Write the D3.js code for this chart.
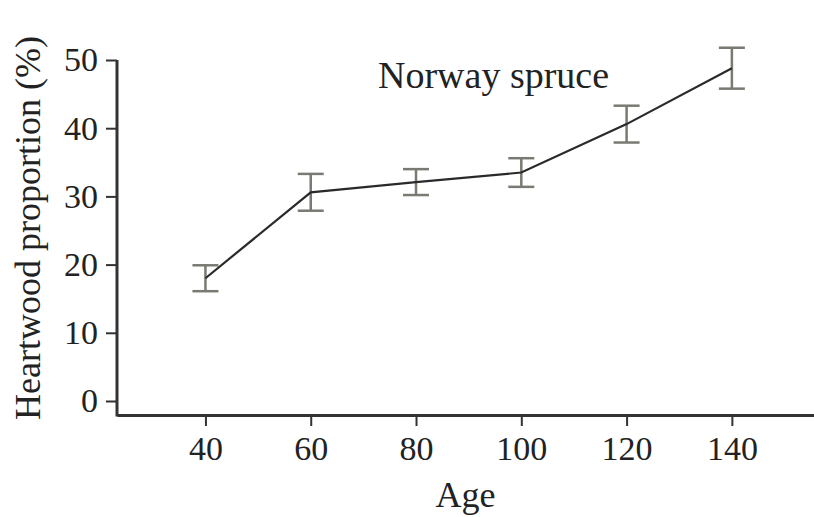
<!DOCTYPE html>
<html>
<head>
<meta charset="utf-8">
<script src="https://cdn.jsdelivr.net/npm/d3@7"></script>
<style>
  html, body { margin: 0; padding: 0; background: #fff; }
  svg { display: block; }
  .axis text { font-family: 'Liberation Serif', serif; font-size: 34px; fill: #222; }
</style>
</head>
<body>
<div id="chart"></div>
<script>
'use strict';

// values
var ages = [40, 60, 80, 100, 120, 140];
var heartwood = [18.0, 30.6, 32.1, 33.5, 40.6, 48.8];
var errors = [1.9, 2.7, 1.9, 2.1, 2.7, 3.0];
var xTicks = [40, 60, 80, 100, 120, 140];
var yTicks = [0, 10, 20, 30, 40, 50];
var title = 'Norway spruce';

var chartW = 814, chartH = 517;
var plotLeft = 117, plotRight = 814, plotTop = 60, axisY = 415;

var svg = d3.select('#chart')
    .append('svg')
    .attr('width', chartW)
    .attr('height', chartH);

var x = d3.scaleLinear().domain([23.2, 155.6]).range([plotLeft, plotRight]);
var y = d3.scaleLinear().domain([0, 50]).range([401, plotTop]);

// x axis
var xAxis = svg.append('g')
    .attr('class', 'axis')
    .attr('transform', 'translate(0,' + axisY + ')')
    .call(d3.axisBottom(x).tickValues(xTicks).tickSize(11).tickSizeOuter(0).tickPadding(10));
xAxis.select('.domain').attr('stroke', '#333').attr('stroke-width', 3);
xAxis.selectAll('.tick line').attr('stroke', '#333').attr('stroke-width', 2);

// y axis
var yAxis = svg.append('g')
    .attr('class', 'axis')
    .attr('transform', 'translate(' + plotLeft + ',0)')
    .call(d3.axisLeft(y).tickValues(yTicks).tickSize(11).tickSizeOuter(0).tickPadding(8));
yAxis.select('.domain')
    .attr('d', 'M0,' + y(50) + 'V' + (axisY + 1.5))
    .attr('stroke', '#333').attr('stroke-width', 3);
yAxis.selectAll('.tick line').attr('stroke', '#333').attr('stroke-width', 2);

// axis titles
svg.append('text')
    .attr('x', (plotLeft + plotRight) / 2)
    .attr('y', 507)
    .attr('text-anchor', 'middle')
    .style('font-family', "'Liberation Serif', serif")
    .style('font-size', '36px')
    .style('fill', '#222')
    .text('Age');

svg.append('text')
    .attr('transform', 'translate(40,' + 228 + ') rotate(-90)')
    .attr('text-anchor', 'middle')
    .style('font-family', "'Liberation Serif', serif")
    .style('font-size', '36px')
    .style('fill', '#222')
    .text('Heartwood proportion (%)');

svg.append('text')
    .attr('x', 378)
    .attr('y', 88)
    .style('font-family', "'Liberation Serif', serif")
    .style('font-size', '38px')
    .style('fill', '#222')
    .text(title);

var data = ages.map(function (a, i) {
    return {age: a, value: heartwood[i], err: errors[i]};
});

// error bars
var bars = svg.append('g')
    .attr('stroke', '#7a7a72')
    .attr('stroke-width', 2.5)
    .selectAll('g')
    .data(data)
    .enter().append('g');

bars.append('line')
    .attr('x1', function (d) { return x(d.age); })
    .attr('x2', function (d) { return x(d.age); })
    .attr('y1', function (d) { return y(d.value + d.err); })
    .attr('y2', function (d) { return y(d.value - d.err); });

[1, -1].forEach(function (s) {
    bars.append('line')
        .attr('x1', function (d) { return x(d.age) - 13; })
        .attr('x2', function (d) { return x(d.age) + 13; })
        .attr('y1', function (d) { return y(d.value + s * d.err); })
        .attr('y2', function (d) { return y(d.value + s * d.err); });
});

// mean line
var line = d3.line()
    .x(function (d) { return x(d.age); })
    .y(function (d) { return y(d.value); });

svg.append('path')
    .datum(data)
    .attr('d', line)
    .attr('fill', 'none')
    .attr('stroke', '#2a2a2a')
    .attr('stroke-width', 2.2);
</script>
</body>
</html>
